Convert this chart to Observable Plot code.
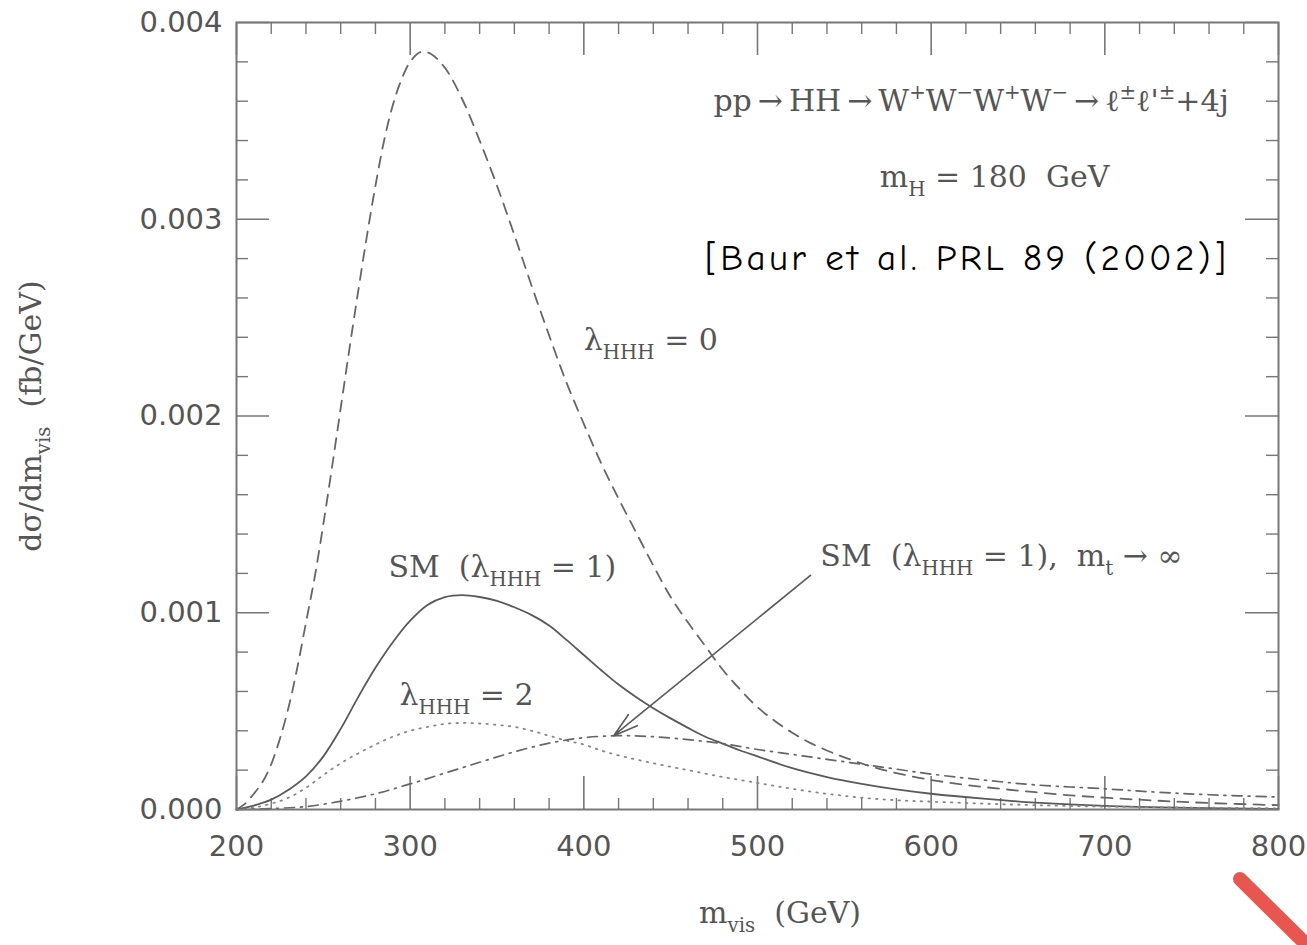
<!DOCTYPE html>
<html>
<head>
<meta charset="utf-8">
<script src="https://cdn.jsdelivr.net/npm/d3@7"></script>
<script src="https://cdn.jsdelivr.net/npm/@observablehq/plot@0.6"></script>
<style>
html, body { margin: 0; padding: 0; background: #fff; }
#chart { position: relative; width: 1307px; height: 945px; overflow: hidden; }
</style>
</head>
<body>
<div id="chart"></div>
<script>
// ---- data (m_vis in GeV, dσ/dm_vis in fb/GeV) ----
const massLam0 = [200,205,210,215,220,225,230,235,240,245,250,255,260,265,270,275,280,285,290,295,300,306,312,320,330,340,350,360,370,380,390,400,410,420,430,440,450,460,470,480,490,500,510,520,530,540,550,565,580,600,620,640,660,680,700,730,760,800];
const xsecLam0 = [0,0.00003,0.00008,0.00014,0.00023,0.00036,0.00052,0.00072,0.00095,0.00118,0.00145,0.00174,0.00204,0.00234,0.00263,0.00291,0.00317,0.0034,0.00358,0.00371,0.0038,0.00385,0.00384,0.00377,0.00361,0.0034,0.00317,0.00292,0.00266,0.00241,0.00217,0.00196,0.00176,0.00158,0.00141,0.00124,0.00108,0.00095,0.00083,0.00071,0.00061,0.00052,0.00045,0.00039,0.00034,0.0003,0.000265,0.00022,0.000185,0.00015,0.000125,0.000105,0.000088,0.000072,0.00006,0.000045,0.000033,0.000022];

const massSM = [200,210,220,230,240,250,260,270,280,290,300,310,320,330,340,350,360,370,380,390,400,410,420,430,440,450,460,470,480,490,500,520,540,560,580,600,630,660,700,750,800];
const xsecSM = [0,0.00002,0.00005,0.0001,0.000168,0.00027,0.00041,0.00057,0.00072,0.00085,0.00096,0.00104,0.00108,0.00109,0.00108,0.00106,0.001028,0.000988,0.000935,0.000862,0.000785,0.000708,0.000635,0.000572,0.000515,0.000463,0.000415,0.00037,0.000335,0.0003,0.00027,0.00021,0.000165,0.00013,0.000102,0.00008,0.000055,0.000035,0.000018,0.000008,0.000003];

const massLam2 = [200,210,220,230,240,250,260,270,280,290,300,310,320,330,340,350,360,370,380,390,400,410,420,440,460,480,500,520,540,560,580,600,630,660,700,750,800];
const xsecLam2 = [0,0.00001,0.00003,0.00006,0.00011,0.000175,0.000235,0.000285,0.00033,0.00037,0.0004,0.00042,0.000435,0.00044,0.000437,0.00043,0.00042,0.0004,0.000375,0.00035,0.00033,0.0003,0.000275,0.000235,0.0002,0.000165,0.000135,0.000105,0.00008,0.00006,0.000047,0.00004,0.00003,0.000022,0.000015,0.00001,0.000006];

const massInf = [200,220,240,260,280,300,320,340,360,380,400,420,440,460,480,500,520,540,560,580,600,630,660,700,730,760,800];
const xsecInf = [0,0.000005,0.000015,0.000042,0.00008,0.00013,0.000185,0.00024,0.000293,0.000337,0.000365,0.000375,0.00037,0.000355,0.000335,0.000305,0.00028,0.000255,0.00023,0.000205,0.00018,0.00015,0.000125,0.000105,0.000088,0.000075,0.000063];

// ---- ticks ----
const xMajor = [200,300,400,500,600,700,800];
const xMinor = [220,240,260,280,320,340,360,380,420,440,460,480,520,540,560,580,620,640,660,680,720,740,760,780];
const yMajor = [0,0.001,0.002,0.003,0.004];
const yMinor = [0.0002,0.0004,0.0006,0.0008,0.0012,0.0014,0.0016,0.0018,0.0022,0.0024,0.0026,0.0028,0.0032,0.0034,0.0036,0.0038];

// ---- annotations ----
const serifLabels = [
  {text: "pp\u2009→\u2009HH\u2009→\u2009W^{+}W^{−}W^{+}W^{−}\u2009→\u2009ℓ^{±}ℓ'^{±}+4j", m: 474.6, v: 0.00360},
  {text: "m_{H} = 180  GeV", m: 570.4, v: 0.003215},
  {text: "λ_{HHH} = 0", m: 400, v: 0.002384},
  {text: "SM  (λ_{HHH} = 1)", m: 287.5, v: 0.001232},
  {text: "λ_{HHH} = 2", m: 293.8, v: 0.000579},
  {text: "SM  (λ_{HHH} = 1),  m_{t} → ∞", m: 536.2, v: 0.001286}
];
const citation = [{text: "[Baur et al. PRL 89 (2002)]", m: 469.8, v: 0.00280}];
const pointer = [{m1: 530.5, v1: 0.00119, m2: 417.2, v2: 0.000375}];
const xTitle = [{text: "m_{vis}  (GeV)", m: 513}];
const yTitle = [{text: "dσ/dm_{vis}  (fb/GeV)"}];

const rows = (xs, ys) => xs.map((m, i) => ({m, v: ys[i]}));

const W = 1307, H = 945, ML = 236, MR = 29, MT = 22, MB = 136;
const IW = W - ML - MR, IH = H - MT - MB;
const ink = "#5a5a5a";
const serif = "DejaVu Serif";

const plot = Plot.plot({
  width: W, height: H,
  marginLeft: ML, marginRight: MR, marginTop: MT, marginBottom: MB,
  x: {domain: [200, 800]},
  y: {domain: [0, 0.004]},
  style: {fontFamily: "DejaVu Sans", fontSize: "29px", color: "#555", background: "#fff"},
  marks: [
    Plot.axisX({ticks: xMajor, tickSize: 0, tickPadding: 26, label: null, tickFormat: d3.format("d")}),
    Plot.axisY({ticks: yMajor, tickSize: 0, tickPadding: 14, label: null, tickFormat: d3.format(".3f")}),
    // inward ticks
    Plot.ruleX(xMajor, {insetTop: IH - 33, stroke: "#777", strokeWidth: 1.6}),
    Plot.ruleX(xMinor, {insetTop: IH - 11, stroke: "#777", strokeWidth: 1.4}),
    Plot.ruleX(xMajor, {insetBottom: IH - 33, stroke: "#777", strokeWidth: 1.6}),
    Plot.ruleX(xMinor, {insetBottom: IH - 12, stroke: "#777", strokeWidth: 1.4}),
    Plot.ruleY(yMajor, {insetRight: IW - 33, stroke: "#777", strokeWidth: 1.6}),
    Plot.ruleY(yMinor, {insetRight: IW - 12, stroke: "#777", strokeWidth: 1.4}),
    Plot.ruleY(yMajor, {insetLeft: IW - 33, stroke: "#777", strokeWidth: 1.6}),
    Plot.ruleY(yMinor, {insetLeft: IW - 12, stroke: "#777", strokeWidth: 1.4}),
    // curves
    Plot.line(rows(massLam0, xsecLam0), {x: "m", y: "v", curve: "catmull-rom", stroke: "#666", strokeWidth: 1.8, strokeDasharray: "11,8"}),
    Plot.line(rows(massSM, xsecSM), {x: "m", y: "v", curve: "catmull-rom", stroke: ink, strokeWidth: 1.8}),
    Plot.line(rows(massLam2, xsecLam2), {x: "m", y: "v", curve: "catmull-rom", stroke: "#888", strokeWidth: 1.8, strokeDasharray: "1.5,6"}),
    Plot.line(rows(massInf, xsecInf), {x: "m", y: "v", curve: "catmull-rom", stroke: "#666", strokeWidth: 1.7, strokeDasharray: "10,6,2,6"}),
    Plot.arrow(pointer, {x1: "m1", y1: "v1", x2: "m2", y2: "v2", stroke: ink, strokeWidth: 1.6, headLength: 24, headAngle: 32}),
    Plot.frame({stroke: "#777", strokeWidth: 2}),
    // annotations
    Plot.text(serifLabels, {x: "m", y: "v", text: "text", textAnchor: "start", fontFamily: serif, fontSize: 30, fill: "#555"}),
    Plot.text(citation, {x: "m", y: "v", text: "text", textAnchor: "start", fontFamily: "Comic Sans MS, Comic Neue, Lato, sans-serif", fontSize: 37, fill: "#000"}),
    Plot.text(xTitle, {x: "m", frameAnchor: "bottom", dy: 113, text: "text", fontFamily: serif, fontSize: 30, fill: "#555"}),
    Plot.text(yTitle, {frameAnchor: "left", dx: 30.5 - ML, rotate: -90, textAnchor: "middle", text: "text", fontFamily: serif, fontSize: 30, fill: "#555"})
  ]
});

document.getElementById("chart").appendChild(plot);

// rich text: _{...} subscripts and ^{...} superscripts
d3.select(plot).selectAll("text").each(function () {
  const t = this.textContent;
  if (t === citation[0].text) { this.setAttribute("letter-spacing", "3.4"); return; }
  if (!/[_^]\{/.test(t)) return;
  const fs = parseFloat(getComputedStyle(this).fontSize) || 30;
  const parts = t.split(/([_^]\{[^}]*\})/).filter(s => s.length);
  while (this.firstChild) this.removeChild(this.firstChild);
  let shift = 0;
  for (const p of parts) {
    const ts = document.createElementNS("http://www.w3.org/2000/svg", "tspan");
    let target = 0, txt = p, small = false;
    if (p.startsWith("_{")) { target = 0.3 * fs; txt = p.slice(2, -1); small = true; }
    else if (p.startsWith("^{")) { target = -0.4 * fs; txt = p.slice(2, -1); small = true; }
    const dy = target - shift;
    if (dy) ts.setAttribute("dy", dy);
    shift = target;
    if (small) ts.setAttribute("font-size", 0.66 * fs);
    ts.textContent = txt;
    this.appendChild(ts);
  }
});

// decorative red slide pointer (bottom-right corner)
d3.select(plot).append("path")
  .attr("d", "M1240,879 L1318,956")
  .attr("stroke", "#e8574f").attr("stroke-width", 14).attr("stroke-linecap", "round").attr("fill", "none");
</script>
</body>
</html>
